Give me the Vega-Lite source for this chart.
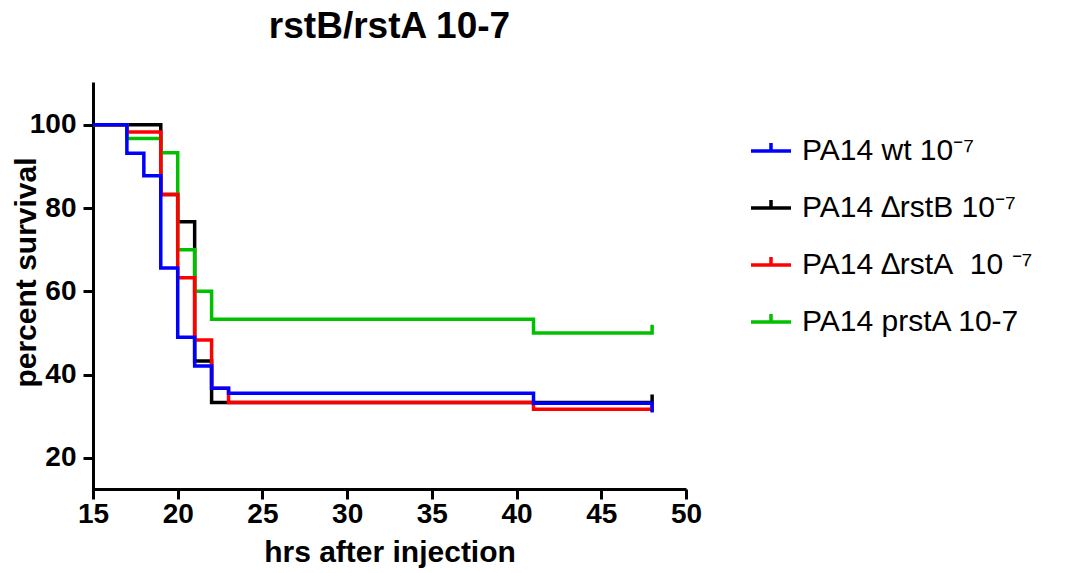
{
  "$schema": "https://vega.github.io/schema/vega-lite/v6.json",
  "width": 593,
  "height": 415,
  "autosize": "none",
  "padding": {"left": 93, "top": 82, "right": 387, "bottom": 76},
  "background": "white",
  "config": {"font": "Liberation Sans", "view": {"stroke": null}},
  "title": {"text": "rstB/rstA 10-7", "fontSize": 37, "fontWeight": "bold", "anchor": "middle", "frame": "group", "offset": 36, "color": "black", "font": "Liberation Sans"},
  "data": {"values": [
    {"group": "PA14 wt 10⁻⁷", "i": 1, "hrs": 15, "pct": 100},
    {"group": "PA14 wt 10⁻⁷", "i": 2, "hrs": 17, "pct": 93.2},
    {"group": "PA14 wt 10⁻⁷", "i": 3, "hrs": 18, "pct": 87.8},
    {"group": "PA14 wt 10⁻⁷", "i": 4, "hrs": 19, "pct": 65.6},
    {"group": "PA14 wt 10⁻⁷", "i": 5, "hrs": 20, "pct": 49.0},
    {"group": "PA14 wt 10⁻⁷", "i": 6, "hrs": 21, "pct": 42.1},
    {"group": "PA14 wt 10⁻⁷", "i": 7, "hrs": 22, "pct": 36.7},
    {"group": "PA14 wt 10⁻⁷", "i": 8, "hrs": 23, "pct": 35.5},
    {"group": "PA14 wt 10⁻⁷", "i": 9, "hrs": 41, "pct": 33.1},
    {"group": "PA14 wt 10⁻⁷", "i": 10, "hrs": 48, "pct": 33.1},
    {"group": "PA14 wt 10⁻⁷", "i": 11, "hrs": 48, "pct": 30.9},
    {"group": "PA14 ∆rstB 10⁻⁷", "i": 1, "hrs": 15, "pct": 100},
    {"group": "PA14 ∆rstB 10⁻⁷", "i": 2, "hrs": 19, "pct": 83.3},
    {"group": "PA14 ∆rstB 10⁻⁷", "i": 3, "hrs": 20, "pct": 76.7},
    {"group": "PA14 ∆rstB 10⁻⁷", "i": 4, "hrs": 21, "pct": 43.3},
    {"group": "PA14 ∆rstB 10⁻⁷", "i": 5, "hrs": 22, "pct": 33.3},
    {"group": "PA14 ∆rstB 10⁻⁷", "i": 6, "hrs": 48, "pct": 33.3},
    {"group": "PA14 ∆rstB 10⁻⁷", "i": 7, "hrs": 48, "pct": 35.2},
    {"group": "PA14 ∆rstA\u00a0 10 ⁻⁷", "i": 1, "hrs": 15, "pct": 100},
    {"group": "PA14 ∆rstA\u00a0 10 ⁻⁷", "i": 2, "hrs": 17, "pct": 98.3},
    {"group": "PA14 ∆rstA\u00a0 10 ⁻⁷", "i": 3, "hrs": 19, "pct": 83.3},
    {"group": "PA14 ∆rstA\u00a0 10 ⁻⁷", "i": 4, "hrs": 20, "pct": 63.3},
    {"group": "PA14 ∆rstA\u00a0 10 ⁻⁷", "i": 5, "hrs": 21, "pct": 48.3},
    {"group": "PA14 ∆rstA\u00a0 10 ⁻⁷", "i": 6, "hrs": 22, "pct": 36.7},
    {"group": "PA14 ∆rstA\u00a0 10 ⁻⁷", "i": 7, "hrs": 23, "pct": 33.3},
    {"group": "PA14 ∆rstA\u00a0 10 ⁻⁷", "i": 8, "hrs": 41, "pct": 31.7},
    {"group": "PA14 ∆rstA\u00a0 10 ⁻⁷", "i": 9, "hrs": 48, "pct": 31.7},
    {"group": "PA14 ∆rstA\u00a0 10 ⁻⁷", "i": 10, "hrs": 48, "pct": 33.4},
    {"group": "PA14 prstA 10-7", "i": 1, "hrs": 15, "pct": 100},
    {"group": "PA14 prstA 10-7", "i": 2, "hrs": 17, "pct": 96.7},
    {"group": "PA14 prstA 10-7", "i": 3, "hrs": 19, "pct": 93.3},
    {"group": "PA14 prstA 10-7", "i": 4, "hrs": 20, "pct": 70.0},
    {"group": "PA14 prstA 10-7", "i": 5, "hrs": 21, "pct": 60.0},
    {"group": "PA14 prstA 10-7", "i": 6, "hrs": 22, "pct": 53.3},
    {"group": "PA14 prstA 10-7", "i": 7, "hrs": 41, "pct": 50.0},
    {"group": "PA14 prstA 10-7", "i": 8, "hrs": 48, "pct": 50.0},
    {"group": "PA14 prstA 10-7", "i": 9, "hrs": 48, "pct": 52.0}
  ]},
  "encoding": {
    "x": {
      "field": "hrs", "type": "quantitative",
      "scale": {"domain": [15, 50], "nice": false, "zero": false},
      "axis": {
        "values": [15, 20, 25, 30, 35, 40, 45, 50],
        "offset": -8, "grid": false,
        "domainColor": "black", "domainWidth": 3, "tickColor": "black", "tickWidth": 3, "tickSize": 10,
        "labelFontSize": 28, "labelFontWeight": "bold", "labelColor": "black", "labelPadding": 1,
        "labelFlush": false, "labelOverlap": false, "labelFont": "Liberation Sans",
        "title": "hrs after injection", "titleFontSize": 30, "titleFontWeight": "bold", "titleColor": "black",
        "titleFont": "Liberation Sans", "titleX": 296.5, "titleY": 72, "titleBaseline": "alphabetic", "titleAlign": "center"
      }
    },
    "y": {
      "field": "pct", "type": "quantitative",
      "scale": {"domain": [10.6, 110.3], "nice": false, "zero": false},
      "axis": {
        "values": [20, 40, 60, 80, 100], "grid": false,
        "domainColor": "black", "domainWidth": 3, "tickColor": "black", "tickWidth": 3, "tickSize": 10,
        "labelFontSize": 28, "labelFontWeight": "bold", "labelColor": "black", "labelPadding": 7,
        "labelFont": "Liberation Sans",
        "title": "percent survival", "titleFontSize": 30, "titleFontWeight": "bold", "titleColor": "black",
        "titleFont": "Liberation Sans", "titleX": -58, "titleY": 190, "titleAngle": 270,
        "titleAlign": "center", "titleBaseline": "alphabetic"
      }
    },
    "color": {
      "field": "group", "type": "nominal",
      "scale": {
        "domain": ["PA14 wt 10⁻⁷", "PA14 ∆rstB 10⁻⁷", "PA14 ∆rstA\u00a0 10 ⁻⁷", "PA14 prstA 10-7"],
        "range": ["#0000FF", "#000000", "#FF0000", "#00C000"]
      },
      "legend": {
        "orient": "none", "legendX": 656, "legendY": 47, "title": null,
        "labelFontSize": 30, "labelColor": "black", "labelFont": "Liberation Sans", "labelLimit": 400,
        "symbolType": "M-1,0H1M0,0V-0.4", "symbolSize": 1600, "symbolStrokeWidth": 3.5,
        "rowPadding": 20, "labelOffset": 9, "padding": 0
      }
    },
    "order": {"field": "i", "type": "quantitative"}
  },
  "layer": [
    {"transform": [{"filter": "datum.group === 'PA14 ∆rstB 10⁻⁷'"}], "mark": {"type": "line", "interpolate": "step-after", "strokeWidth": 3.5}},
    {"transform": [{"filter": "datum.group === 'PA14 prstA 10-7'"}], "mark": {"type": "line", "interpolate": "step-after", "strokeWidth": 3.5}},
    {"transform": [{"filter": "datum.group === 'PA14 ∆rstA\u00a0 10 ⁻⁷'"}], "mark": {"type": "line", "interpolate": "step-after", "strokeWidth": 3.5}},
    {"transform": [{"filter": "datum.group === 'PA14 wt 10⁻⁷'"}], "mark": {"type": "line", "interpolate": "step-after", "strokeWidth": 3.5}}
  ]
}
